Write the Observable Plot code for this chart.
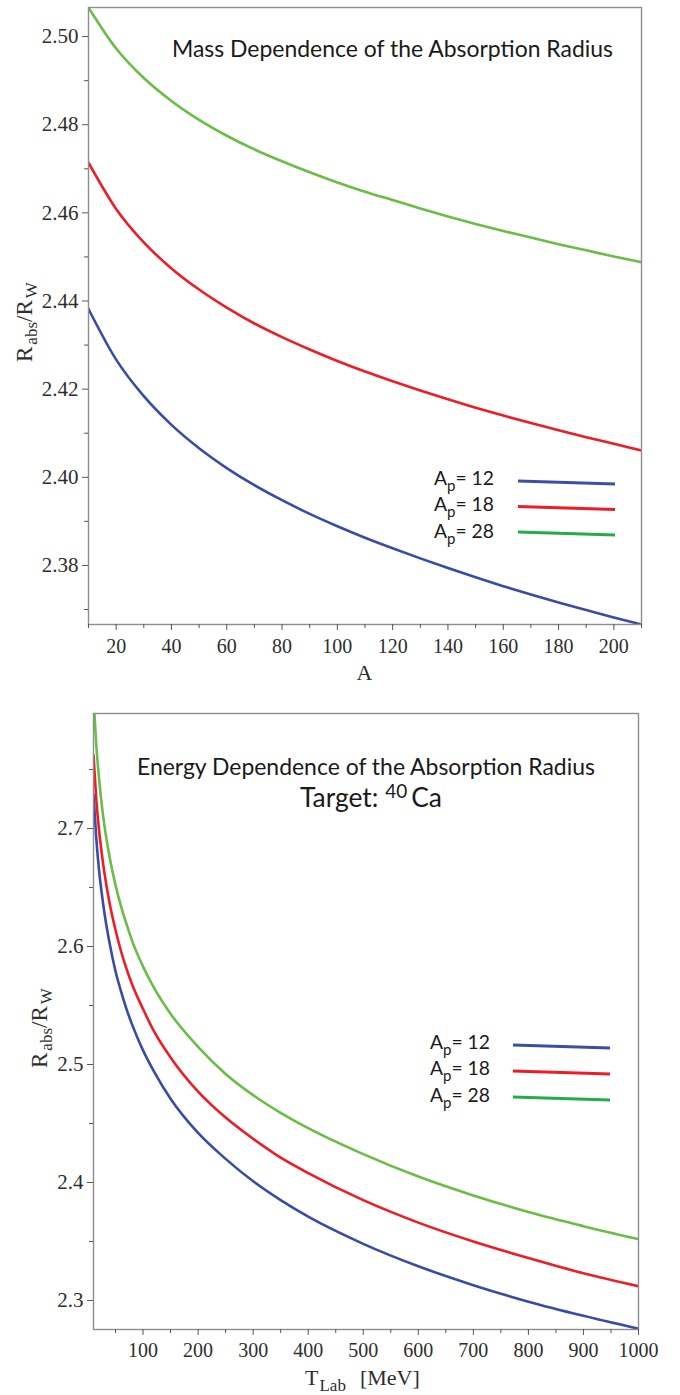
<!DOCTYPE html>
<html><head><meta charset="utf-8">
<script src="https://cdn.jsdelivr.net/npm/d3@7"></script>
<script src="https://cdn.jsdelivr.net/npm/@observablehq/plot@0.6"></script>
<style>
html,body{margin:0;padding:0;background:#fff;}
body{width:680px;height:1395px;overflow:hidden;}
.panel{position:relative;width:680px;}
svg{display:block;}
</style></head><body>
<div class="panel" id="c1"></div>
<div class="panel" id="c2"></div>
<script>
// ---- Data: Mass dependence (x = target mass A) ----
const massA    = [10, 20, 30, 40, 50, 60, 70, 80, 90, 100, 110, 120, 130, 140, 150, 160, 170, 180, 190, 200, 210];
const massAp12 = [2.4382, 2.4267, 2.4184, 2.4119, 2.4066, 2.4021, 2.3982, 2.3948, 2.3917, 2.3889, 2.3863, 2.3839, 2.3816, 2.3794, 2.3773, 2.3753, 2.3734, 2.3716, 2.3699, 2.3682, 2.3666];
const massAp18 = [2.4714, 2.4609, 2.4533, 2.4474, 2.4426, 2.4385, 2.4349, 2.4318, 2.4290, 2.4264, 2.4240, 2.4218, 2.4197, 2.4177, 2.4158, 2.4140, 2.4123, 2.4107, 2.4091, 2.4076, 2.4061];
const massAp28 = [2.5066, 2.4973, 2.4906, 2.4854, 2.4811, 2.4775, 2.4744, 2.4717, 2.4692, 2.4669, 2.4648, 2.4629, 2.4610, 2.4592, 2.4575, 2.4559, 2.4544, 2.4529, 2.4515, 2.4501, 2.4488];

// ---- Data: Energy dependence (x = T_Lab in MeV), target 40Ca ----
const energyT    = [10, 15, 20, 25, 30, 40, 50, 60, 70, 80, 100, 120, 150, 200, 250, 300, 350, 400, 500, 600, 700, 800, 900, 1000];
const energyAp12 = [2.729, 2.692, 2.665, 2.645, 2.628, 2.601, 2.579, 2.562, 2.547, 2.534, 2.512, 2.494, 2.471, 2.442, 2.420, 2.401, 2.385, 2.371, 2.348, 2.329, 2.313, 2.299, 2.287, 2.276];
const energyAp18 = [2.762, 2.725, 2.699, 2.679, 2.662, 2.635, 2.614, 2.596, 2.581, 2.568, 2.547, 2.528, 2.506, 2.477, 2.455, 2.437, 2.421, 2.408, 2.385, 2.366, 2.350, 2.336, 2.323, 2.312];
const energyAp28 = [2.811, 2.771, 2.743, 2.720, 2.702, 2.674, 2.652, 2.634, 2.619, 2.605, 2.583, 2.565, 2.543, 2.515, 2.492, 2.474, 2.459, 2.446, 2.424, 2.405, 2.389, 2.375, 2.363, 2.352];

// ---- Series / ticks ----
const apValues = [12, 18, 28];
const lineColors = ["#3a4ba6", "#ee1c25", "#6abd45"];
const legendColors = ["#3d4ea8", "#ee1c25", "#22ad4a"];

const massXTicks = [20, 40, 60, 80, 100, 120, 140, 160, 180, 200];
const massXMinor = [10, 30, 50, 70, 90, 110, 130, 150, 170, 190, 210];
const massYTicks = [2.38, 2.40, 2.42, 2.44, 2.46, 2.48, 2.50];
const massYMinor = [2.37, 2.39, 2.41, 2.43, 2.45, 2.47, 2.49];

const energyXTicks = [100, 200, 300, 400, 500, 600, 700, 800, 900, 1000];
const energyXMinor = [50, 150, 250, 350, 450, 550, 650, 750, 850, 950];
const energyYTicks = [2.3, 2.4, 2.5, 2.6, 2.7];
const energyYMinor = [2.35, 2.45, 2.55, 2.65, 2.75];

const rows = (xs, ys, ap) => xs.map((x, i) => ({x, y: ys[i], ap}));
const massRows = [
  ...rows(massA, massAp12, 12), ...rows(massA, massAp18, 18), ...rows(massA, massAp28, 28)
];
const energyRows = [
  ...rows(energyT, energyAp12, 12), ...rows(energyT, energyAp18, 18), ...rows(energyT, energyAp28, 28)
];

const serif = "'Liberation Serif','Times New Roman',serif";
const sans = "Lato,'Open Sans','Noto Sans',sans-serif";
const axisColor = "#555";

function axes(xT, xM, yT, yM, yFmt, xPad) {
  return [
    Plot.axisY({ticks: yT, tickSize: 6, tickPadding: 4, tickFormat: yFmt, label: null, stroke: axisColor, fill: "#2e2e2e", fontSize: 21}),
    Plot.axisY({ticks: yM, tickSize: 4, tickFormat: () => "", label: null, stroke: axisColor}),
    Plot.axisX({ticks: xT, tickSize: 6, tickPadding: xPad, tickFormat: d => String(d), label: null, stroke: axisColor, fill: "#2e2e2e", fontSize: 20}),
    Plot.axisX({ticks: xM, tickSize: 4, tickFormat: () => "", label: null, stroke: axisColor})
  ];
}

const p1 = Plot.plot({
  width: 680, height: 690,
  marginLeft: 88, marginRight: 39, marginTop: 7, marginBottom: 66,
  x: {domain: [10, 210]},
  y: {domain: [2.3666, 2.5066]},
  color: {type: "ordinal", domain: apValues, range: lineColors},
  style: {fontFamily: serif, fontSize: "20px", background: "#fff", overflow: "visible"},
  marks: [
    Plot.line(massRows, {x: "x", y: "y", z: "ap", stroke: "ap", strokeWidth: 2.6, curve: "monotone-x", clip: true}),
    Plot.frame({stroke: "#8e8e8e", strokeWidth: 1.4}),
    ...axes(massXTicks, massXMinor, massYTicks, massYMinor, d => d.toFixed(2), 8)
  ]
});

const p2 = Plot.plot({
  width: 680, height: 705,
  marginLeft: 93, marginRight: 42, marginTop: 23, marginBottom: 66,
  x: {domain: [10, 1000]},
  y: {domain: [2.2754, 2.7975]},
  color: {type: "ordinal", domain: apValues, range: lineColors},
  style: {fontFamily: serif, fontSize: "20px", background: "#fff", overflow: "visible"},
  marks: [
    Plot.line(energyRows, {x: "x", y: "y", z: "ap", stroke: "ap", strokeWidth: 2.6, curve: "monotone-x", clip: true}),
    Plot.frame({stroke: "#8e8e8e", strokeWidth: 1.4}),
    ...axes(energyXTicks, energyXMinor, energyYTicks, energyYMinor, d => d.toFixed(1), 7)
  ]
});

document.getElementById("c1").appendChild(p1);
document.getElementById("c2").appendChild(p2);

function fitWidth(sel, w) {
  const cur = sel.node().getComputedTextLength();
  const fs = parseFloat(sel.attr("font-size"));
  if (cur > 0) sel.attr("font-size", (fs * w / cur).toFixed(2));
}

function title(svg, text, x, y, w, size) {
  const t = svg.append("text").attr("x", x).attr("y", y).attr("text-anchor", "start")
    .attr("font-family", sans).attr("font-size", size).attr("fill", "#1a1a1a").text(text);
  fitWidth(t, w);
  return t;
}

function yLabel(svg, x, y) {
  const t = svg.append("text").attr("transform", `translate(${x},${y}) rotate(-90)`)
    .attr("text-anchor", "start")
    .attr("font-family", serif).attr("font-size", 23).attr("fill", "#2e2e2e");
  t.append("tspan").text("R");
  t.append("tspan").attr("font-size", 17).attr("dy", 5).attr("dx", 2).text("abs");
  t.append("tspan").attr("dy", -5).text("/R");
  t.append("tspan").attr("font-size", 17).attr("dy", 5).attr("dx", 2).text("W");
}

function legend(svg, tx, ys, lx1, lx2, ly) {
  apValues.forEach((ap, i) => {
    const t = svg.append("text").attr("x", tx).attr("y", ys[i]).attr("text-anchor", "start")
      .attr("font-family", sans).attr("font-size", 21).attr("fill", "#1a1a1a");
    t.append("tspan").text("A");
    t.append("tspan").attr("font-size", "78%").attr("dy", 6).text("p");
    t.append("tspan").attr("dy", -6).text("= " + ap);
    fitWidth(t, 60);
    svg.append("line").attr("x1", lx1).attr("x2", lx2)
      .attr("y1", ly[i]).attr("y2", ly[i] + 3)
      .attr("stroke", legendColors[i]).attr("stroke-width", 3.2).attr("stroke-linecap", "butt");
  });
}

// Panel 1 annotations
const s1 = d3.select(p1);
title(s1, "Mass Dependence of the Absorption Radius", 172, 56.5, 441, 22);
yLabel(s1, 32, 362);
s1.append("text").attr("x", 364.5).attr("y", 680).attr("text-anchor", "middle")
  .attr("font-family", serif).attr("font-size", 22).attr("fill", "#2e2e2e").text("A");
legend(s1, 434, [485, 511, 537.5], 518, 615, [481, 506.5, 532]);

// Panel 2 annotations (svg top at page y=690)
const s2 = d3.select(p2);
title(s2, "Energy Dependence of the Absorption Radius", 137, 85, 458, 22);
{
  const t = s2.append("text").attr("x", 300).attr("y", 116.5).attr("text-anchor", "start")
    .attr("font-family", sans).attr("font-size", 22).attr("fill", "#1a1a1a");
  t.append("tspan").text("Target: ");
  t.append("tspan").attr("font-size", "72%").attr("dy", -9).text("40");
  t.append("tspan").attr("dy", 9).attr("dx", 4).text("Ca");
  fitWidth(t, 138);
}
yLabel(s2, 47, 378);
{
  const t = s2.append("text").attr("x", 305).attr("y", 695).attr("text-anchor", "start")
    .attr("font-family", serif).attr("font-size", 22).attr("fill", "#2e2e2e");
  t.append("tspan").text("T");
  t.append("tspan").attr("font-size", 17).attr("dy", 6).attr("dx", 1).text("Lab");
  t.append("tspan").attr("dy", -6).attr("dx", 14).text("[MeV]");
}
legend(s2, 430, [359.3, 385, 411.7], 513, 610, [355, 381, 407]);
</script>
</body></html>
